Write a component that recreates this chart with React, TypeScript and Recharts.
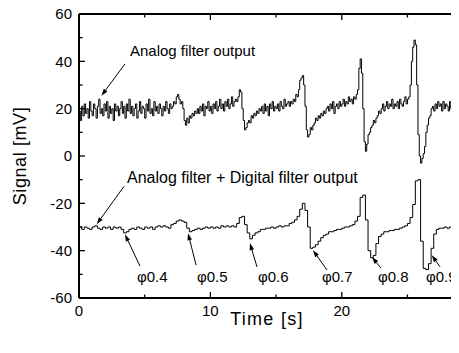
import React from 'react';
import { LineChart, Line, XAxis, YAxis, ReferenceLine, ReferenceDot } from 'recharts';

// analog trace sample times [s]
const analogTimes = [
    0, 0.1, 0.2, 0.3, 0.4, 0.5, 0.6, 0.7, 0.8, 0.9,
    1, 1.1, 1.2, 1.3, 1.4, 1.5, 1.6, 1.7, 1.8, 1.9,
    2, 2.1, 2.2, 2.3, 2.4, 2.5, 2.6, 2.7, 2.8, 2.9,
    3, 3.1, 3.2, 3.3, 3.4, 3.5, 3.6, 3.7, 3.8, 3.9,
    4, 4.1, 4.2, 4.3, 4.4, 4.5, 4.6, 4.7, 4.8, 4.9,
    5, 5.1, 5.2, 5.3, 5.4, 5.5, 5.6, 5.7, 5.8, 5.9,
    6, 6.1, 6.2, 6.3, 6.4, 6.5, 6.6, 6.7, 6.8, 6.9,
    7, 7.1, 7.2, 7.3, 7.4, 7.5, 7.6, 7.7, 7.8, 7.9,
    8, 8.1, 8.2, 8.3, 8.4, 8.5, 8.6, 8.7, 8.8, 8.9,
    9, 9.1, 9.2, 9.3, 9.4, 9.5, 9.6, 9.7, 9.8, 9.9,
    10, 10.1, 10.2, 10.3, 10.4, 10.5, 10.6, 10.7, 10.8, 10.9,
    11, 11.1, 11.2, 11.3, 11.4, 11.5, 11.6, 11.7, 11.8, 11.9,
    12, 12.1, 12.2, 12.3, 12.4, 12.5, 12.6, 12.7, 12.8, 12.9,
    13, 13.1, 13.2, 13.3, 13.4, 13.5, 13.6, 13.7, 13.8, 13.9,
    14, 14.1, 14.2, 14.3, 14.4, 14.5, 14.6, 14.7, 14.8, 14.9,
    15, 15.1, 15.2, 15.3, 15.4, 15.5, 15.6, 15.7, 15.8, 15.9,
    16, 16.1, 16.2, 16.3, 16.4, 16.5, 16.6, 16.7, 16.8, 16.9,
    17, 17.1, 17.2, 17.3, 17.4, 17.5, 17.6, 17.7, 17.8, 17.9,
    18, 18.1, 18.2, 18.3, 18.4, 18.5, 18.6, 18.7, 18.8, 18.9,
    19, 19.1, 19.2, 19.3, 19.4, 19.5, 19.6, 19.7, 19.8, 19.9,
    20, 20.1, 20.2, 20.3, 20.4, 20.5, 20.6, 20.7, 20.8, 20.9,
    21, 21.1, 21.2, 21.3, 21.4, 21.5, 21.6, 21.7, 21.8, 21.9,
    22, 22.1, 22.2, 22.3, 22.4, 22.5, 22.6, 22.7, 22.8, 22.9,
    23, 23.1, 23.2, 23.3, 23.4, 23.5, 23.6, 23.7, 23.8, 23.9,
    24, 24.1, 24.2, 24.3, 24.4, 24.5, 24.6, 24.7, 24.8, 24.9,
    25, 25.1, 25.2, 25.3, 25.4, 25.5, 25.6, 25.7, 25.8, 25.9,
    26, 26.1, 26.2, 26.3, 26.4, 26.5, 26.6, 26.7, 26.8, 26.9,
    27, 27.1, 27.2, 27.3, 27.4, 27.5, 27.6, 27.7, 27.8, 27.9,
    28, 28.1, 28.2, 28.3, 28.4, 28.5, 28.6, 28.7, 28.8, 28.9,
    29, 29.1, 29.2, 29.3, 29.4,
];

// analog filter output [mV]
const analogOutput = [
    19, 15, 21, 17, 22, 18, 20, 16, 23, 19,
    17, 22, 20, 16, 21, 24, 18, 20, 17, 22,
    19, 23, 16, 21, 18, 20, 15, 22, 19, 21,
    17, 20, 23, 18, 21, 16, 22, 19, 24, 18,
    21, 17, 20, 22, 16, 19, 23, 18, 21, 20,
    16, 22, 19, 24, 18, 20, 17, 23, 19, 21,
    18, 22, 20, 17, 21, 19, 23, 20, 18, 22,
    20, 21, 23, 22, 25, 26, 24, 22, 23, 20,
    15, 13, 16, 14, 17, 16, 18, 17, 19, 18,
    20, 18, 21, 19, 22, 17, 21, 20, 23, 19,
    21, 18, 22, 20, 23, 19, 21, 24, 20, 22,
    19, 23, 21, 24, 20, 22, 25, 21, 23, 24,
    23, 25, 28, 27, 20, 15, 11, 12, 14, 15,
    14, 17, 16, 18, 17, 19, 18, 20, 19, 21,
    18, 22, 19, 21, 17, 22, 20, 23, 19, 21,
    20, 22, 19, 23, 21, 20, 24, 21, 22, 23,
    21, 23, 22, 24, 23, 26, 25, 28, 32, 33,
    34, 30, 21, 11, 8, 9, 12, 11, 13, 14,
    16, 15, 17, 16, 18, 17, 19, 18, 20, 21,
    19, 22, 20, 23, 18, 21, 22, 20, 23, 21,
    22, 24, 21, 23, 22, 25, 23, 24, 22, 25,
    24, 26, 28, 37, 41, 35, 20, 6, 2, 5,
    9, 10, 12, 13, 15, 14, 16, 17, 19, 18,
    20, 22, 19, 21, 23, 20, 22, 21, 24, 20,
    22, 21, 23, 20, 24, 22, 21, 23, 25, 22,
    24, 25, 30, 40, 46, 49, 47, 30, 9, 0,
    -3, -1, 1, 4, 10, 13, 16, 17, 20, 21,
    19, 22, 20, 23, 21, 22, 19, 23, 20, 22,
    21, 19, 23, 20, 22, 18, 21, 23, 20, 22,
    20, 23, 19, 22, 21,
];

// digital trace sample times [s]
const digitalTimes = [
    0, 0.2, 0.4, 0.6, 0.8, 1, 1.2, 1.4, 1.6, 1.8,
    2, 2.2, 2.4, 2.6, 2.8, 3, 3.2, 3.4, 3.6, 3.8,
    4, 4.2, 4.4, 4.6, 4.8, 5, 5.2, 5.4, 5.6, 5.8,
    6, 6.2, 6.4, 6.6, 6.8, 7, 7.2, 7.4, 7.6, 7.8,
    8, 8.2, 8.4, 8.6, 8.8, 9, 9.2, 9.4, 9.6, 9.8,
    10, 10.2, 10.4, 10.6, 10.8, 11, 11.2, 11.4, 11.6, 11.8,
    12, 12.2, 12.4, 12.6, 12.8, 13, 13.2, 13.4, 13.6, 13.8,
    14, 14.2, 14.4, 14.6, 14.8, 15, 15.2, 15.4, 15.6, 15.8,
    16, 16.2, 16.4, 16.6, 16.8, 17, 17.2, 17.4, 17.6, 17.8,
    18, 18.2, 18.4, 18.6, 18.8, 19, 19.2, 19.4, 19.6, 19.8,
    20, 20.2, 20.4, 20.6, 20.8, 21, 21.2, 21.4, 21.6, 21.8,
    22, 22.2, 22.4, 22.6, 22.8, 23, 23.2, 23.4, 23.6, 23.8,
    24, 24.2, 24.4, 24.6, 24.8, 25, 25.2, 25.4, 25.6, 25.8,
    26, 26.2, 26.4, 26.6, 26.8, 27, 27.2, 27.4, 27.6, 27.8,
    28, 28.2, 28.4, 28.6, 28.8, 29, 29.2, 29.4,
];

// analog filter + digital filter output [mV]
const digitalOutput = [
    -30, -31, -30, -30.5, -31, -30, -29.5, -30.5, -31, -30,
    -30.5, -30, -31, -30, -30.5, -30, -31, -32.5, -32, -31,
    -30.5, -31, -30, -30.5, -31, -30, -30.5, -30, -31, -30,
    -29.5, -30, -29.5, -30, -30.5, -29, -28.5, -27.5, -27, -27.5,
    -28, -30.5, -32, -31.5, -31, -30.5, -31, -30.5, -30, -30.5,
    -30, -30.5, -30, -30.5, -29.5, -30, -29.5, -30, -29.5, -30,
    -28.5, -26, -25.5, -29, -32.5, -35, -33.5, -32.5, -32, -31,
    -31, -30.5, -30.5, -30, -30.5, -30, -29.5, -30, -29.5, -29.5,
    -28.5, -28, -27, -25.5, -22.5, -20, -23, -30, -39, -38.5,
    -37.5, -36, -34.5, -33.5, -33, -32, -32, -31.5, -31, -31,
    -30.5, -30, -30, -29.5, -29, -27.5, -25.5, -17.5, -16.5, -27,
    -40, -43, -42, -37, -34, -33, -32, -32, -31.5, -31.5,
    -31, -31, -30.5, -30, -29.5, -28.5, -26, -20.5, -10.5, -10,
    -36, -47.5, -48, -45.5, -39, -33, -31, -30.5, -30.5, -30,
    -30.5, -30, -30.5, -30, -30.5, -30, -30.5, -30,
];

const xTicks = [0, 5, 10, 15, 20, 25];
const yTicks = [-60, -50, -40, -30, -20, -10, 0, 10, 20, 30, 40, 50, 60];
const xMax = 29;
const yMin = -60;
const yMax = 60;

// annotation texts and arrows, in data units
const notes = [
    { text: 'Analog filter output', t: 3.88, v: 42.3, size: 15 },
    { text: 'Analog filter + Digital filter output', t: 3.65, v: -11.6, size: 16 },
    { text: 'φ0.4', t: 4.41, v: -53.3, size: 15 },
    { text: 'φ0.5', t: 8.98, v: -53.3, size: 15 },
    { text: 'φ0.6', t: 13.62, v: -53.3, size: 15 },
    { text: 'φ0.7', t: 18.5, v: -53.3, size: 15 },
    { text: 'φ0.8', t: 22.76, v: -53.3, size: 15 },
    { text: 'φ0.9', t: 26.41, v: -53.3, size: 15 },
];

const arrows = [
    { from: [3.5, 38.9], to: [1.71, 25.5] },
    { from: [3.43, -12.8], to: [1.35, -28.8] },
    { from: [4.64, -46.5], to: [3.5, -33.1] },
    { from: [8.91, -46.1], to: [8.3, -32.6] },
    { from: [13.55, -46.9], to: [13.01, -36.8] },
    { from: [18.88, -48.2], to: [17.81, -39.8] },
    { from: [22.99, -47.4], to: [22.3, -42.7] },
    { from: [27.48, -46.8], to: [26.85, -41.9] },
];

const FONT = '"Liberation Sans", Arial, sans-serif';

// chart box
const CHART_W = 468;
const CHART_H = 353;
const MARGIN = { top: 14, right: 8, bottom: 25, left: 8 };
const Y_AXIS_W = 71;
const X_AXIS_H = 30;
const plotLeft = MARGIN.left + Y_AXIS_W;
const plotRight = CHART_W - MARGIN.right;
const plotTop = MARGIN.top;
const plotBottom = CHART_H - MARGIN.bottom - X_AXIS_H;

const analogData = analogTimes.map((t, i) => ({ t, analog: analogOutput[i] }));
const digitalData = digitalTimes.map((t, i) => ({ t, digital: digitalOutput[i] }));

const BottomTick = ({ x, y, payload }: any) => {
    const major = payload.value % 10 === 0;
    return (
        <g>
            <line x1={x} y1={y} x2={x} y2={y - (major ? 6 : 3.5)} stroke="#000" strokeWidth={1.3} />
            {major && (
                <text x={x} y={y + 18} textAnchor="middle" fontSize={15} fontFamily={FONT} fill="#000">
                    {payload.value}
                </text>
            )}
        </g>
    );
};

const LeftTick = ({ x, y, payload }: any) => {
    const major = payload.value % 20 === 0;
    return (
        <g>
            <line x1={x} y1={y} x2={x + (major ? 6 : 3.5)} y2={y} stroke="#000" strokeWidth={1.3} />
            {major && (
                <text x={x - 7} y={y} dy="0.35em" textAnchor="end" fontSize={15} fontFamily={FONT} fill="#000">
                    {payload.value}
                </text>
            )}
        </g>
    );
};

const Arrow = (props: any) => {
    const { x1, y1, x2, y2 } = props;
    const ang = Math.atan2(y2 - y1, x2 - x1);
    const len = 7;
    const half = 2.3;
    const bx = x2 - len * Math.cos(ang);
    const by = y2 - len * Math.sin(ang);
    const px = -Math.sin(ang) * half;
    const py = Math.cos(ang) * half;
    return (
        <g>
            <line x1={x1} y1={y1} x2={bx} y2={by} stroke="#000" strokeWidth={1} />
            <polygon points={`${x2},${y2} ${bx + px},${by + py} ${bx - px},${by - py}`} fill="#000" />
        </g>
    );
};

// top and right frame edges with inward ticks, laid over the chart
const FrameOverlay: React.FC = () => {
    const kx = (plotRight - plotLeft) / xMax;
    const ky = (plotBottom - plotTop) / (yMax - yMin);
    return (
        <svg
            width={CHART_W}
            height={CHART_H}
            style={{ position: 'absolute', left: 0, top: 0, pointerEvents: 'none' }}
        >
            <line x1={plotLeft} y1={plotTop} x2={plotRight} y2={plotTop} stroke="#000" strokeWidth={2} />
            <line x1={plotRight} y1={plotTop} x2={plotRight} y2={plotBottom} stroke="#000" strokeWidth={2} />
            {xTicks.map((t) => (
                <line
                    key={`tt-${t}`}
                    x1={plotLeft + t * kx}
                    y1={plotTop}
                    x2={plotLeft + t * kx}
                    y2={plotTop + (t % 10 === 0 ? 6 : 3.5)}
                    stroke="#000"
                    strokeWidth={1.3}
                />
            ))}
            {yTicks.map((v) => (
                <line
                    key={`rt-${v}`}
                    x1={plotRight}
                    y1={plotTop + (yMax - v) * ky}
                    x2={plotRight - (v % 20 === 0 ? 6 : 3.5)}
                    y2={plotTop + (yMax - v) * ky}
                    stroke="#000"
                    strokeWidth={1.3}
                />
            ))}
        </svg>
    );
};

const App: React.FC = () => {
    return (
        <div
            style={{
                margin: -8,
                width: 459,
                height: 353,
                overflow: 'hidden',
                background: '#fff',
                position: 'relative',
            }}
        >
            <LineChart width={CHART_W} height={CHART_H} margin={MARGIN}>
                <XAxis
                    dataKey="t"
                    type="number"
                    domain={[0, xMax]}
                    allowDataOverflow
                    ticks={xTicks}
                    interval={0}
                    height={X_AXIS_H}
                    tickSize={0}
                    tickMargin={0}
                    tickLine={false}
                    tick={BottomTick}
                    axisLine={{ stroke: '#000', strokeWidth: 2 }}
                    label={{
                        content: ({ viewBox }: any) => (
                            <text
                                x={267}
                                y={viewBox.y + 27}
                                textAnchor="middle"
                                fontSize={18}
                                letterSpacing={1.3}
                                fontFamily={FONT}
                                fill="#000"
                            >
                                Time [s]
                            </text>
                        ),
                    }}
                />
                <YAxis
                    type="number"
                    domain={[yMin, yMax]}
                    allowDataOverflow
                    ticks={yTicks}
                    interval={0}
                    width={Y_AXIS_W}
                    tickSize={0}
                    tickMargin={0}
                    tickLine={false}
                    tick={LeftTick}
                    axisLine={{ stroke: '#000', strokeWidth: 2 }}
                    label={{
                        content: ({ viewBox }: any) => {
                            const cx = 20;
                            const cy = viewBox.y + viewBox.height / 2;
                            return (
                                <text
                                    x={cx}
                                    y={cy}
                                    transform={`rotate(-90, ${cx}, ${cy})`}
                                    textAnchor="middle"
                                    dominantBaseline="central"
                                    fontSize={18}
                                    letterSpacing={0.6}
                                    fontFamily={FONT}
                                    fill="#000"
                                >
                                    Signal [mV]
                                </text>
                            );
                        },
                    }}
                />
                <Line
                    data={analogData}
                    type="stepAfter"
                    dataKey="analog"
                    stroke="#000"
                    strokeWidth={1}
                    dot={false}
                    isAnimationActive={false}
                />
                <Line
                    data={digitalData}
                    type="stepAfter"
                    dataKey="digital"
                    stroke="#000"
                    strokeWidth={1}
                    dot={false}
                    isAnimationActive={false}
                />
                {arrows.map((a, i) => (
                    <ReferenceLine
                        key={`arrow-${i}`}
                        segment={[{ x: a.from[0], y: a.from[1] }, { x: a.to[0], y: a.to[1] }]}
                        shape={Arrow}
                    />
                ))}
                {notes.map((n, i) => (
                    <ReferenceDot
                        key={`note-${i}`}
                        x={n.t}
                        y={n.v}
                        r={0}
                        shape={(p: any) => (
                            <text x={p.cx} y={p.cy} fontSize={n.size} fontFamily={FONT} fill="#000">
                                {n.text}
                            </text>
                        )}
                    />
                ))}
            </LineChart>
            <FrameOverlay />
        </div>
    );
};

export default App;
